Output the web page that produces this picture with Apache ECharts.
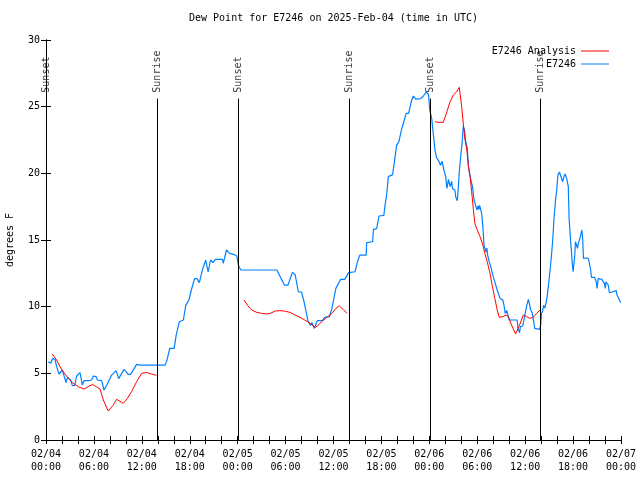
<!DOCTYPE html>
<html><head><meta charset="utf-8">
<script src="https://cdn.jsdelivr.net/npm/echarts@6/dist/echarts.min.js"></script>
<style>html,body{margin:0;padding:0;background:#fff}#c{width:640px;height:480px}</style>
</head><body><div id="c"></div>
<script>
// hours since 2025-02-04 00:00 UTC, dew point in degrees F
var xTickLabels = ['02/04\n00:00','02/04\n06:00','02/04\n12:00','02/04\n18:00','02/05\n00:00','02/05\n06:00','02/05\n12:00','02/05\n18:00','02/06\n00:00','02/06\n06:00','02/06\n12:00','02/06\n18:00','02/07\n00:00'];
var sunNames = ['Sunset','Sunrise','Sunset','Sunrise','Sunset','Sunrise'];
var sunHours = [0.0, 13.94, 24.08, 37.94, 48.1, 61.94];
var sunLineTop = 25.6;

var stationE7246 = [[0.29,5.87],[0.58,5.75],[0.83,6.12],[1.13,6.05],[1.33,5.5],[1.63,4.95],[1.83,4.95],[2.05,5.25],[2.25,5.25],[2.5,4.3],[2.67,4.7],[2.9,4.6],[3.08,4.5],[3.3,4.08],[3.6,4.1],[3.84,4.8],[4.26,5.05],[4.55,4.12],[4.76,4.45],[5.3,4.45],[5.72,4.5],[5.93,4.8],[6.26,4.75],[6.43,4.5],[6.97,4.45],[7.26,3.75],[7.6,4.1],[8.22,4.87],[8.77,5.2],[9.1,4.6],[9.77,5.3],[10.3,4.92],[10.6,4.92],[11.35,5.67],[11.8,5.62],[14.9,5.62],[15.1,5.87],[15.5,6.87],[16.05,6.87],[16.3,7.87],[16.7,8.87],[17.2,9.0],[17.5,10.1],[17.9,10.5],[18.2,11.25],[18.6,12.1],[18.9,12.1],[19.2,11.8],[19.4,11.8],[19.6,12.8],[20.0,13.5],[20.3,12.6],[20.6,13.5],[20.9,13.3],[21.2,13.55],[22.1,13.55],[22.2,13.25],[22.6,14.25],[23.0,14.0],[23.6,13.9],[23.9,13.8],[24.08,13.1],[24.4,12.75],[28.9,12.75],[29.85,11.62],[30.3,11.62],[30.85,12.57],[31.2,12.4],[31.6,11.1],[32.0,11.1],[32.3,10.4],[32.8,8.95],[33.1,8.6],[33.3,8.8],[33.6,8.37],[33.98,8.95],[34.6,8.95],[34.9,9.2],[35.5,9.25],[35.8,9.87],[36.3,11.37],[36.9,12.05],[37.4,12.05],[37.9,12.55],[38.7,12.62],[39.0,13.37],[39.3,13.87],[40.1,13.87],[40.15,14.8],[40.9,14.87],[41.0,15.8],[41.4,15.85],[41.7,16.8],[42.3,16.85],[42.45,17.6],[42.65,18.37],[42.87,19.75],[43.4,19.9],[43.6,20.75],[43.9,22.1],[44.2,22.4],[44.5,23.25],[44.8,23.87],[45.1,24.5],[45.4,24.5],[45.5,24.4],[45.8,25.5],[46.0,25.8],[46.3,25.57],[46.9,25.6],[47.25,25.8],[47.6,26.1],[47.9,25.9],[48.05,24.75],[48.3,24.1],[48.4,23.5],[48.6,22.4],[48.7,21.75],[48.9,21.2],[49.2,20.9],[49.4,20.6],[49.6,20.9],[49.8,20.3],[50.05,19.75],[50.2,18.87],[50.4,19.55],[50.6,19.0],[50.8,19.4],[50.9,18.87],[51.2,18.75],[51.3,18.25],[51.5,17.95],[51.6,18.7],[51.75,20.1],[51.9,21.1],[52.1,22.25],[52.25,23.5],[52.4,23.25],[52.55,22.4],[52.75,21.9],[52.9,20.5],[53.1,20.4],[53.2,19.5],[53.4,19.0],[53.6,18.0],[53.8,17.6],[53.95,17.25],[54.1,17.55],[54.2,17.3],[54.3,17.6],[54.55,17.0],[54.7,16.0],[54.85,14.6],[55.1,14.1],[55.2,14.4],[55.3,13.87],[55.5,13.37],[55.7,13.0],[55.9,12.5],[56.1,12.05],[56.35,12.05],[56.5,11.25],[56.7,11.25],[56.85,10.62],[57.2,10.5],[57.35,10.1],[57.5,9.5],[57.6,9.5],[57.7,9.7],[57.85,9.7],[58.0,9.0],[59.0,9.0],[59.1,8.37],[59.3,8.05],[59.4,8.5],[59.7,8.55],[59.85,8.55],[60.0,9.5],[60.2,10.1],[60.4,10.55],[60.55,10.55],[60.7,9.75],[60.9,9.5],[61.2,8.37],[61.45,8.3],[61.8,8.3],[61.95,8.62],[62.05,9.5],[62.2,9.7],[62.3,10.1],[62.45,9.9],[62.6,10.25],[62.75,10.75],[62.9,11.5],[63.1,12.62],[63.3,13.87],[63.45,15.0],[63.6,16.5],[63.8,18.0],[63.95,18.75],[64.1,19.87],[64.3,20.1],[64.45,19.8],[64.6,19.75],[64.7,19.37],[64.85,19.75],[65.0,19.95],[65.2,19.6],[65.4,19.0],[65.5,16.6],[65.7,14.87],[65.9,13.25],[66.0,12.62],[66.2,13.75],[66.3,14.87],[66.4,14.75],[66.55,14.37],[66.65,14.75],[66.8,15.0],[66.95,15.37],[67.1,15.75],[67.2,15.12],[67.3,13.62],[67.6,13.65],[67.8,13.75],[67.9,13.62],[68.05,13.25],[68.2,12.75],[68.3,12.2],[68.7,12.2],[68.9,11.87],[69.0,11.37],[69.15,12.1],[69.6,12.05],[69.9,11.75],[70.05,11.37],[70.1,11.87],[70.3,12.0],[70.4,11.62],[70.55,11.05],[70.9,11.1],[71.4,11.2],[71.5,10.87],[71.8,10.5],[71.95,10.3]];

var analysisSeg1 = [[0.79,6.45],[1.33,6.0],[1.75,5.5],[2.17,5.12],[2.8,4.62],[3.4,4.25],[4.05,4.0],[4.76,3.82],[5.3,4.0],[5.84,4.17],[6.3,4.0],[6.76,3.82],[7.18,3.0],[7.8,2.17],[8.4,2.6],[8.85,3.05],[9.68,2.75],[10.2,3.12],[10.7,3.62],[11.35,4.37],[11.98,5.0],[12.6,5.07],[13.2,4.95],[13.85,4.85]];
var analysisSeg2 = [[24.8,10.5],[25.3,10.05],[25.75,9.75],[26.4,9.57],[27.0,9.5],[27.6,9.45],[28.1,9.5],[28.7,9.67],[29.3,9.7],[29.9,9.67],[30.55,9.57],[31.2,9.37],[31.8,9.2],[32.4,9.0],[33.06,8.75],[33.7,8.45],[34.0,8.55],[34.5,8.87],[35.1,9.17],[35.8,9.5],[36.3,9.87],[36.7,10.07],[37.2,9.8],[37.7,9.5]];
var analysisSeg3 = [[48.7,23.87],[49.25,23.82],[49.75,23.82],[50.2,24.62],[50.6,25.37],[51.0,25.87],[51.4,26.1],[51.75,26.45],[52.05,25.0],[52.25,23.75],[52.47,22.5],[52.7,21.75],[52.9,20.5],[53.1,19.75],[53.3,18.62],[53.5,17.37],[53.7,16.25],[54.0,15.75],[54.35,15.25],[54.7,14.62],[54.95,14.0],[55.25,13.37],[55.6,12.5],[55.9,11.5],[56.2,10.62],[56.5,9.75],[56.75,9.2],[57.2,9.25],[57.6,9.37],[57.9,9.25],[58.3,8.62],[58.8,7.95],[59.3,8.62],[59.77,9.37],[60.2,9.25],[60.6,9.12],[61.0,9.2],[61.45,9.5],[61.86,9.75]];

var FONT = 'DejaVu Sans Mono';
var RED = '#ff0000', BLUE = '#0080ff';
var txt = {fontFamily: FONT, fontSize: 10, color: '#000'};

var sunPoints = sunHours.map(function(h, i){ return [h, sunLineTop, sunNames[i]]; });
var sunLines = sunHours.map(function(h){ return [{coord:[h,0]},{coord:[h,sunLineTop]}]; });

function redSeries(d){
  return {type:'line', name:'E7246 Analysis', data:d, symbol:'none', lineStyle:{color:RED,width:1}, itemStyle:{color:RED}, z:3};
}
function legendBox(name, top){
  return {show:true, data:[{name:name, icon:'rect'}], right:31, top:top, orient:'horizontal', align:'right', padding:0,
    itemWidth:28, itemHeight:1, itemGap:0, textStyle:txt, selectedMode:false};
}

var chart = echarts.init(document.getElementById('c'), null, {renderer:'canvas'});
chart.setOption({
  animation:false,
  backgroundColor:'#fff',
  title:{text:'Dew Point for E7246 on 2025-Feb-04 (time in UTC)', left:189, top:13, padding:0,
    textStyle:{fontFamily:FONT, fontSize:10, fontWeight:'normal', color:'#000'}},
  legend:[ legendBox('E7246 Analysis', 46), legendBox('E7246', 59) ],
  grid:{left:46, right:19, top:40, bottom:40, containLabel:false, outerBoundsMode:'none'},
  xAxis:[
    {type:'value', min:0, max:72, interval:2, position:'bottom',
     axisLine:{lineStyle:{color:'#000',width:1}},
     axisTick:{inside:true, length:4, lineStyle:{color:'#000'}},
     splitLine:{show:false},
     axisLabel:Object.assign({margin:8, lineHeight:13, formatter:function(v){ return v % 6 === 0 ? xTickLabels[v/6] : ''; }}, txt)},
    {type:'value', min:0, max:72, interval:2, position:'top',
     axisLine:{lineStyle:{color:'#000',width:1}},
     axisTick:{inside:true, length:4, lineStyle:{color:'#000'}},
     splitLine:{show:false}, axisLabel:{show:false}}
  ],
  yAxis:[
    {type:'value', min:0, max:30, interval:5, position:'left',
     name:'degrees F', nameLocation:'middle', nameGap:31, nameTextStyle:txt,
     axisLine:{show:true, lineStyle:{color:'#000',width:1}},
     axisTick:{show:true, inside:true, length:5, lineStyle:{color:'#000'}},
     splitLine:{show:false},
     axisLabel:Object.assign({margin:6}, txt)},
    {type:'value', min:0, max:30, interval:5, position:'right',
     axisLine:{show:true, lineStyle:{color:'#000',width:1}},
     axisTick:{show:true, inside:true, length:5, lineStyle:{color:'#000'}},
     splitLine:{show:false}, axisLabel:{show:false}}
  ],
  series:[
    {type:'scatter', name:'sun', data:sunPoints, symbolSize:0, silent:true, z:1,
     label:{show:true, position:'top', distance:6, rotate:90, align:'left', verticalAlign:'middle',
       fontFamily:FONT, fontSize:10, color:'#000', formatter:function(p){ return p.value[2]; }},
     markLine:{silent:true, symbol:['none','none'], label:{show:false}, animation:false,
       lineStyle:{color:'#000', width:1, type:'solid'}, data:sunLines}},
    redSeries(analysisSeg1),
    redSeries(analysisSeg2),
    redSeries(analysisSeg3),
    {type:'line', name:'E7246', data:stationE7246, symbol:'none', lineStyle:{color:BLUE,width:1.2}, itemStyle:{color:BLUE}, z:2}
  ]
});
</script>
</body></html>
